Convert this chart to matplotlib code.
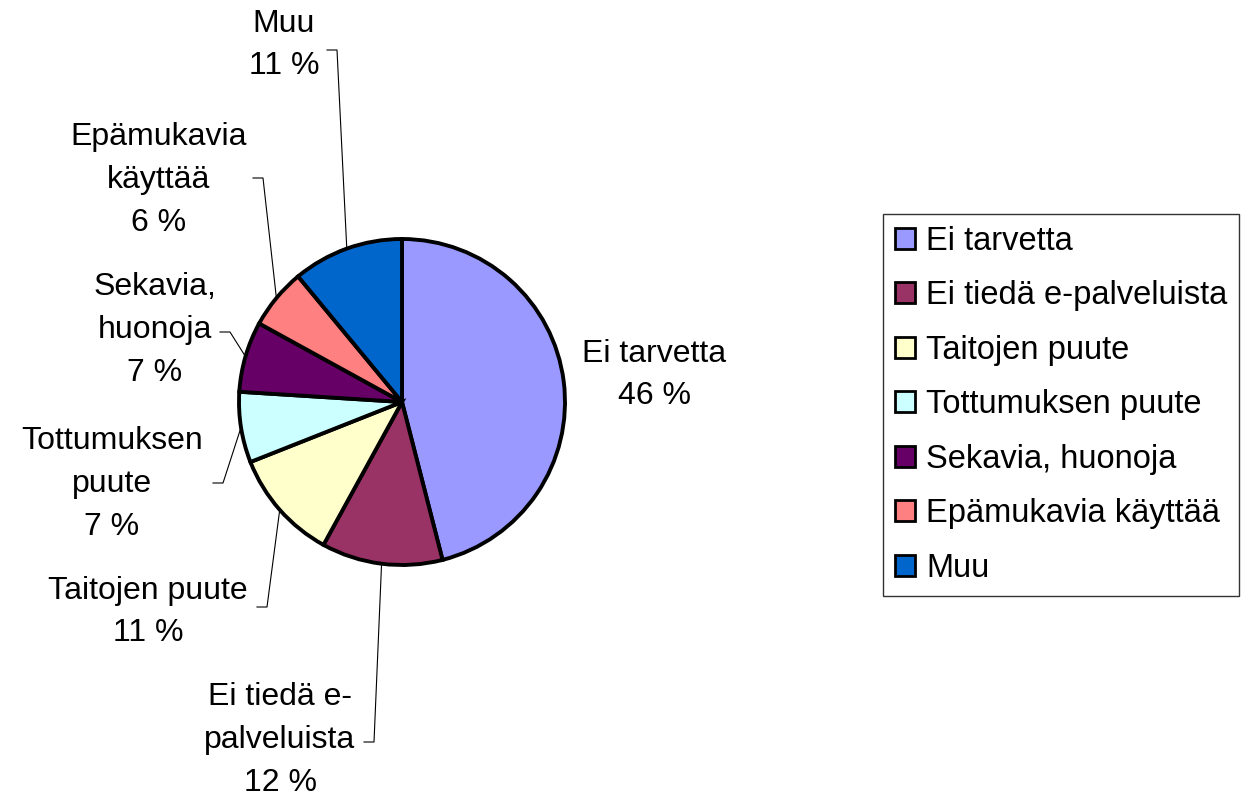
import matplotlib
matplotlib.use("Agg")
import matplotlib.pyplot as plt
import numpy as np

plt.rcParams['font.family'] = ['Liberation Sans', 'DejaVu Sans']

# data
categories = ['Ei tarvetta', 'Ei tiedä e-palveluista', 'Taitojen puute',
              'Tottumuksen puute', 'Sekavia, huonoja', 'Epämukavia käyttää', 'Muu']
shares = [46, 12, 11, 7, 7, 6, 11]
pie_labels = ['Ei tarvetta', 'Ei tiedä e-\npalveluista', 'Taitojen puute',
              'Tottumuksen\npuute', 'Sekavia,\nhuonoja', 'Epämukavia\nkäyttää', 'Muu']
colors = ['#9999FF', '#993366', '#FFFFCC', '#CCFFFF', '#660066', '#FF8080', '#0066CC']

# label placement (pixels from top-left) and leader elbows (None = no leader)
label_pos = [(654, 375), (280, 740), (148, 612), (112, 484), (155, 330), (159, 180), (284, 45)]
elbows = [None, (374, 742), (267, 607), (223, 483), (230, 332), (263, 178), (337, 50)]
tick_len = 10

W, H = 1245, 800
center = (402, H - 402)
radius = 163

fig = plt.figure(figsize=(W / 100, H / 100), dpi=100)
ax = fig.add_axes([0, 0, 1, 1])

wedges, _ = ax.pie(shares, colors=colors, startangle=90, counterclock=False,
                   center=center, radius=radius,
                   wedgeprops=dict(edgecolor='black', linewidth=2.8))
ax.set_xlim(0, W)
ax.set_ylim(0, H)
ax.set_aspect('equal')
ax.axis('off')

for w, lab, val, pos, elb in zip(wedges, pie_labels, shares, label_pos, elbows):
    ax.text(pos[0], H - pos[1], f'{lab}\n{val} %', ha='center', va='center',
            multialignment='center', fontsize=23, linespacing=1.55)
    if elb is None:
        continue
    mid = np.deg2rad((w.theta1 + w.theta2) / 2)
    x0 = center[0] + radius * np.cos(mid)
    y0 = center[1] + radius * np.sin(mid)
    ex, ey = elb[0], H - elb[1]
    ax.plot([x0, ex, ex - tick_len], [y0, ey, ey], color='black', lw=0.8)

leg = ax.legend(wedges, categories, loc='upper left',
                bbox_to_anchor=(883 / W, 1 - 214 / H), borderaxespad=0,
                fontsize=23.5, frameon=True, fancybox=False,
                handlelength=0.61, handleheight=0.61, handletextpad=0.35,
                labelspacing=0.72, borderpad=0.36)
leg.get_frame().set_edgecolor('black')
leg.get_frame().set_linewidth(1.0)
for h in leg.legend_handles:
    h.set_linewidth(2.0)

fig.savefig('out.png', dpi=100, facecolor='white')
